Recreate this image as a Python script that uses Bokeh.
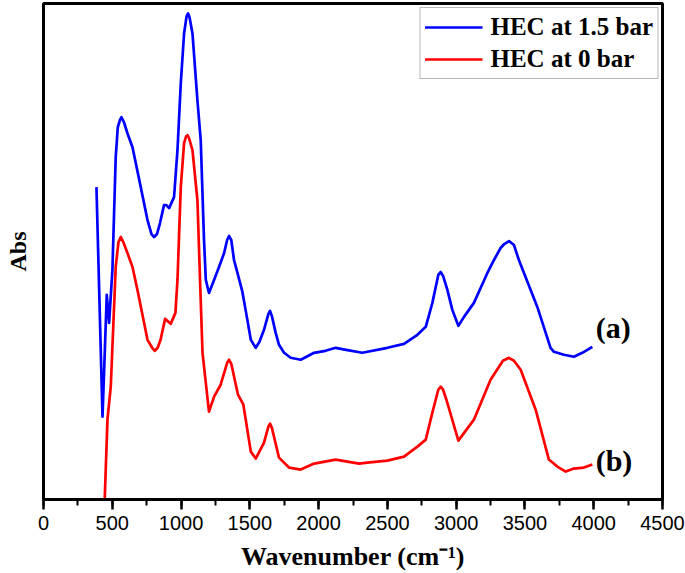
from bokeh.plotting import figure
from bokeh.models import (Range1d, SingleIntervalTicker, Legend, LegendItem,
                          ColumnDataSource)
from bokeh.core.properties import value
from bokeh.embed import file_html
from bokeh.resources import INLINE

# ---- data (absorbance in arbitrary units) ----
wn_a = [385, 429, 460, 477, 501, 525, 540, 555, 567, 585, 610, 647, 707, 756, 785, 804,
        825, 847, 876, 893, 913, 949, 974, 998, 1022, 1040, 1051, 1062, 1083, 1119, 1143,
        1167, 1180, 1203, 1240, 1276, 1313, 1335, 1349, 1365, 1385, 1410, 1446, 1482,
        1507, 1543, 1570, 1603, 1635, 1647, 1660, 1688, 1712, 1749, 1797, 1870, 1967,
        2050, 2124, 2200, 2318, 2500, 2621, 2718, 2779, 2827, 2870, 2887, 2905, 2936,
        2972, 3016, 3057, 3129, 3227, 3275, 3323, 3350, 3384, 3420, 3456, 3493, 3590,
        3686, 3711, 3783, 3856, 3917, 3990]
abs_a = [3.13, 0.83, 2.05, 1.77, 2.30, 3.43, 3.73, 3.80, 3.83, 3.78, 3.67, 3.53, 3.13,
         2.80, 2.66, 2.63, 2.66, 2.77, 2.95, 2.95, 2.92, 3.03, 3.50, 4.17, 4.67, 4.84,
         4.87, 4.83, 4.67, 4.00, 3.60, 2.60, 2.20, 2.07, 2.20, 2.33, 2.47, 2.60, 2.64,
         2.60, 2.40, 2.27, 2.08, 1.80, 1.60, 1.52, 1.58, 1.70, 1.86, 1.89, 1.84, 1.67,
         1.55, 1.47, 1.42, 1.40, 1.47, 1.49, 1.52, 1.50, 1.47, 1.52, 1.56, 1.65, 1.73,
         1.97, 2.25, 2.28, 2.24, 2.10, 1.90, 1.74, 1.83, 1.97, 2.27, 2.40, 2.52, 2.56,
         2.59, 2.55, 2.40, 2.27, 1.93, 1.52, 1.48, 1.45, 1.43, 1.47, 1.53]

wn_b = [445, 465, 489, 525, 545, 562, 580, 610, 647, 683, 756, 790, 809, 830, 851, 884,
        925, 959, 974, 998, 1022, 1037, 1047, 1058, 1083, 1119, 1138, 1156, 1203, 1240,
        1288, 1335, 1349, 1365, 1414, 1453, 1507, 1543, 1603, 1635, 1647, 1660, 1712,
        1785, 1870, 1967, 2124, 2294, 2355, 2500, 2621, 2718, 2779, 2827, 2870, 2887,
        2905, 2929, 3016, 3129, 3250, 3340, 3384, 3420, 3469, 3578, 3674, 3735, 3796,
        3856, 3929, 3990]
abs_b = [0.00, 0.80, 1.13, 2.33, 2.58, 2.63, 2.58, 2.47, 2.33, 2.10, 1.60, 1.52, 1.49,
         1.52, 1.60, 1.81, 1.76, 1.87, 2.20, 3.13, 3.57, 3.64, 3.65, 3.62, 3.50, 3.00,
         2.20, 1.47, 0.88, 1.03, 1.15, 1.37, 1.40, 1.36, 1.05, 0.95, 0.48, 0.41, 0.57,
         0.73, 0.76, 0.72, 0.42, 0.32, 0.30, 0.36, 0.40, 0.36, 0.37, 0.39, 0.43, 0.53,
         0.60, 0.87, 1.10, 1.13, 1.10, 1.00, 0.59, 0.80, 1.20, 1.39, 1.42, 1.39, 1.30,
         0.90, 0.40, 0.33, 0.28, 0.31, 0.32, 0.35]

series_names = ["HEC at 1.5 bar", "HEC at 0 bar"]
curve_tags = ["(a)", "(b)"]
tag_x = [4014, 4014]
tag_y = [1.72, 0.39]
x_ticks_interval = 500

serif = "Liberation Serif"
sans = "Liberation Sans"

p = figure(width=685, height=573, output_backend="svg", toolbar_location=None,
           x_range=Range1d(0, 4500), y_range=Range1d(0, 4.97),
           min_border_left=43, min_border_right=23, min_border_top=3,
           min_border_bottom=73)
p.background_fill_color = "white"
p.border_fill_color = "white"
p.xgrid.visible = False
p.ygrid.visible = False
p.outline_line_color = "black"
p.outline_line_width = 3
p.outline_line_alpha = 1.0

ra = p.line(wn_a, abs_a, line_color="#0000ff", line_width=2.7, line_join="round")
rb = p.line(wn_b, abs_b, line_color="#ff0000", line_width=2.7, line_join="round")

src = ColumnDataSource(dict(x=tag_x, y=tag_y, t=curve_tags))
p.text(x="x", y="y", text="t", source=src, text_font=value(serif),
       text_font_style="bold", text_font_size="30px", text_align="left",
       text_baseline="middle", text_color="black")

# x axis
xa = p.xaxis[0]
xa.ticker = SingleIntervalTicker(interval=x_ticks_interval, num_minor_ticks=2)
xa.axis_line_width = 3
xa.axis_line_color = "black"
xa.major_tick_line_width = 2.5
xa.major_tick_in = 0
xa.major_tick_out = 10
xa.minor_tick_line_width = 2
xa.minor_tick_in = 0
xa.minor_tick_out = 6
xa.major_label_text_font = sans
xa.major_label_text_font_size = "20px"
xa.major_label_text_color = "black"
xa.major_label_standoff = 6
xa.axis_label = "Wavenumber (cm\u207b\u00b9)"
xa.axis_label_text_font = serif
xa.axis_label_text_font_style = "bold"
xa.axis_label_text_font_size = "26px"
xa.axis_label_text_color = "black"
xa.axis_label_standoff = 9

# y axis (no ticks, only the label)
ya = p.yaxis[0]
ya.ticker = []
ya.axis_line_width = 3
ya.axis_line_color = "black"
ya.major_tick_line_color = None
ya.minor_tick_line_color = None
ya.major_label_text_font_size = "0px"
ya.axis_label = "Abs"
ya.axis_label_text_font = serif
ya.axis_label_text_font_style = "bold"
ya.axis_label_text_font_size = "24px"
ya.axis_label_text_color = "black"
ya.axis_label_standoff = 13

legend = Legend(items=[LegendItem(label=series_names[0], renderers=[ra]),
                       LegendItem(label=series_names[1], renderers=[rb])],
                location="top_right")
legend.margin = 4
legend.padding = 4
legend.spacing = 2
legend.glyph_width = 58
legend.glyph_height = 30
legend.label_height = 30
legend.label_standoff = 8
legend.label_text_font = serif
legend.label_text_font_style = "bold"
legend.label_text_font_size = "25px"
legend.label_text_color = "black"
legend.border_line_color = "#707070"
legend.border_line_width = 1.2
legend.background_fill_color = "white"
legend.background_fill_alpha = 1.0
p.add_layout(legend)

open("out.html", "w").write(file_html(p, INLINE))
